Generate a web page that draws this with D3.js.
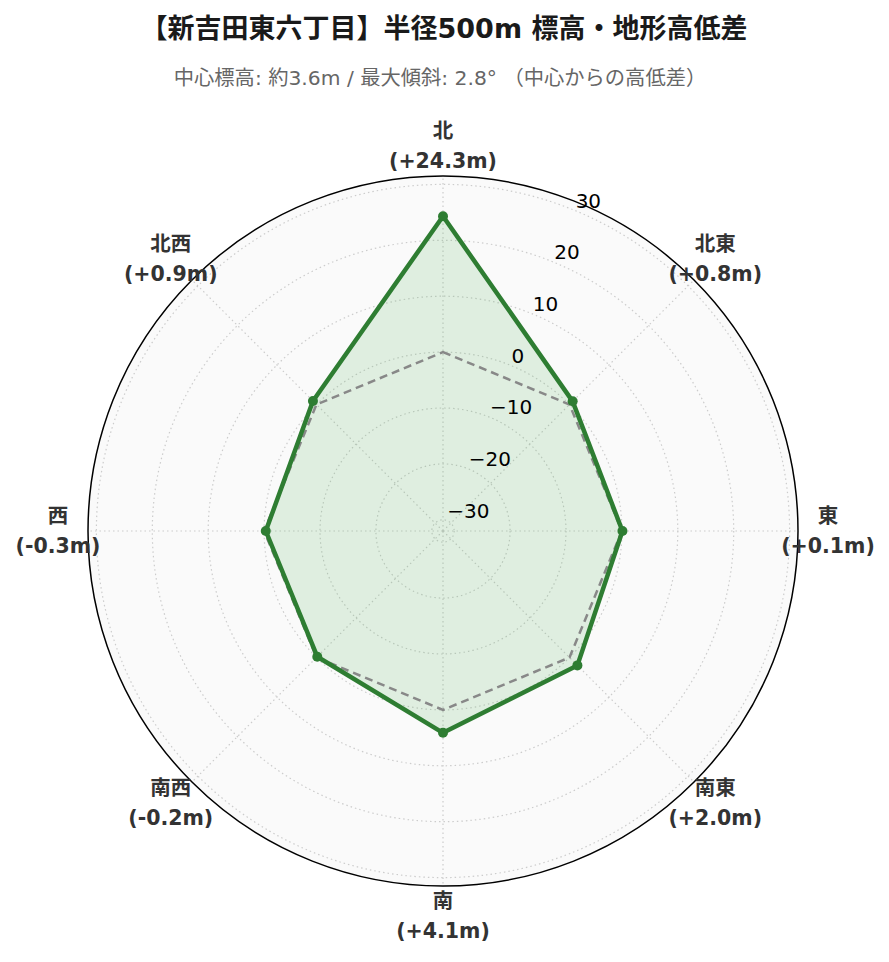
<!DOCTYPE html>
<html>
<head>
<meta charset="utf-8">
<script src="https://cdn.jsdelivr.net/npm/d3@7"></script>
<style>
  body { margin: 0; background: #fff; }
  svg { display: block; }
</style>
</head>
<body>
<div id="chart"></div>
<script>
// direction labels and elevation differences from center (m)
const directions = ['北', '北東', '東', '南東', '南', '南西', '西', '北西'];
const diffs = [24.3, 0.8, 0.1, 2.0, 4.1, -0.2, -0.3, 0.9];
const reference = [0, 0, 0, 0, 0, 0, 0, 0];
const radialTicks = [-30, -20, -10, 0, 10, 20, 30];
const radialRange = [-32, 31.5];

const titleText = '【新吉田東六丁目】半径500m 標高・地形高低差';
const subtitleText = '中心標高: 約3.6m / 最大傾斜: 2.8° （中心からの高低差）';

const width = 889, height = 962;
const cx = 443, cy = 531, R = 355, labelR = 385;

const svg = d3.select('#chart')
  .append('svg')
  .attr('width', width)
  .attr('height', height);

const r = d3.scaleLinear().domain(radialRange).range([0, R]);
const angle = d3.scaleLinear().domain([0, directions.length]).range([0, 2 * Math.PI]);

// point helper: angle measured clockwise from north
const px = (i, v) => cx + r(v) * Math.sin(angle(i));
const py = (i, v) => cy - r(v) * Math.cos(angle(i));

const fontLatin = '"DejaVu Sans", "Noto Sans CJK JP", sans-serif';

// titles
svg.append('text')
  .attr('x', 444)
  .attr('y', 38)
  .attr('text-anchor', 'middle')
  .style('font-family', fontLatin)
  .style('font-weight', 'bold')
  .style('font-size', '27px')
  .style('fill', '#1a1a1a')
  .text(titleText);

svg.append('text')
  .attr('x', 440)
  .attr('y', 85)
  .attr('text-anchor', 'middle')
  .style('font-family', fontLatin)
  .style('font-size', '20.3px')
  .style('fill', '#666')
  .text(subtitleText);

const g = svg.append('g');

// plot background
g.append('circle')
  .attr('cx', cx).attr('cy', cy).attr('r', R)
  .style('fill', '#fafafa');

// circular gridlines
g.selectAll('.grid-circle')
  .data(radialTicks)
  .enter()
  .append('circle')
  .attr('class', 'grid-circle')
  .attr('cx', cx).attr('cy', cy)
  .attr('r', d => r(d))
  .style('fill', 'none')
  .style('stroke', '#cccccc')
  .style('stroke-width', 1.2)
  .style('stroke-dasharray', '1.5,3');

// spokes
g.selectAll('.spoke')
  .data(directions)
  .enter()
  .append('line')
  .attr('class', 'spoke')
  .attr('x1', cx).attr('y1', cy)
  .attr('x2', (d, i) => px(i, radialRange[1]))
  .attr('y2', (d, i) => py(i, radialRange[1]))
  .style('stroke', '#cccccc')
  .style('stroke-width', 1.2)
  .style('stroke-dasharray', '1.5,3');

const line = d3.line()
  .x(d => px(d.i, d.v))
  .y(d => py(d.i, d.v))
  .curve(d3.curveLinearClosed);

const series = diffs.map((v, i) => ({ i, v }));
const refSeries = reference.map((v, i) => ({ i, v }));

// filled area
g.append('path')
  .attr('d', line(series))
  .style('fill', '#4caf50')
  .style('fill-opacity', 0.15)
  .style('stroke', 'none');

// zero reference line
g.append('path')
  .attr('d', line(refSeries))
  .style('fill', 'none')
  .style('stroke', '#888')
  .style('stroke-width', 2.5)
  .style('stroke-dasharray', '8,5');

// data line
g.append('path')
  .attr('d', line(series))
  .style('fill', 'none')
  .style('stroke', '#2e7d32')
  .style('stroke-width', 4.5)
  .style('stroke-linejoin', 'round');

g.selectAll('.dot')
  .data(series)
  .enter()
  .append('circle')
  .attr('class', 'dot')
  .attr('cx', d => px(d.i, d.v))
  .attr('cy', d => py(d.i, d.v))
  .attr('r', 5)
  .style('fill', '#2e7d32');

// outer frame
g.append('circle')
  .attr('cx', cx).attr('cy', cy).attr('r', R)
  .style('fill', 'none')
  .style('stroke', '#000')
  .style('stroke-width', 1.5);

// radial tick labels along 22.5 degrees
const tickAngle = Math.PI / 8;
g.selectAll('.rtick')
  .data(radialTicks)
  .enter()
  .append('text')
  .attr('class', 'rtick')
  .attr('x', d => cx + r(d) * Math.sin(tickAngle))
  .attr('y', d => cy - r(d) * Math.cos(tickAngle) - 3)
  .style('font-family', fontLatin)
  .style('font-size', '20px')
  .style('fill', '#000')
  .text(d => d3.format('')(d).replace('-', '\u2212'));

// direction labels
const fmt = v => `(${v >= 0 ? '+' : ''}${v.toFixed(1)}m)`;
const dirLabels = g.selectAll('.dir')
  .data(directions)
  .enter()
  .append('text')
  .attr('class', 'dir')
  .attr('text-anchor', 'middle')
  .style('font-family', fontLatin)
  .style('font-weight', 'bold')
  .style('font-size', '20.5px')
  .style('fill', '#333');

dirLabels.append('tspan')
  .attr('x', (d, i) => cx + labelR * Math.sin(angle(i)))
  .attr('y', (d, i) => cy - labelR * Math.cos(angle(i)) - 15)
  .attr('dominant-baseline', 'central')
  .text(d => d);

dirLabels.append('tspan')
  .attr('x', (d, i) => cx + labelR * Math.sin(angle(i)))
  .attr('y', (d, i) => cy - labelR * Math.cos(angle(i)) + 15)
  .attr('dominant-baseline', 'central')
  .text((d, i) => fmt(diffs[i]));
</script>
</body>
</html>
